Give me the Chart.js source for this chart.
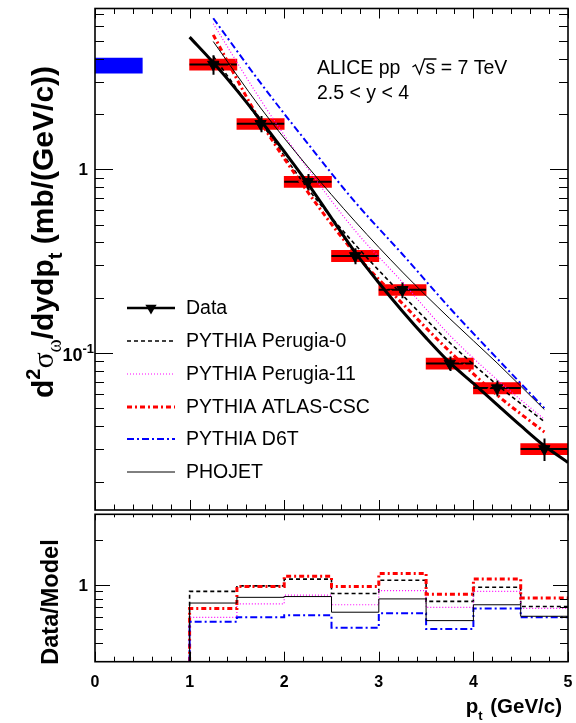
<!DOCTYPE html>
<html>
<head>
<meta charset="utf-8">
<script src="https://cdn.jsdelivr.net/npm/chart.js@4.4.1/dist/chart.umd.min.js"></script>
<style>
  body { margin: 0; background: #fff; }
  #wrap { position: relative; width: 576px; height: 723px; }
  canvas { position: absolute; left: 0; }
  #top { top: 0; }
  #bot { top: 512px; }
</style>
</head>
<body>
<div id="wrap">
  <canvas id="top" width="576" height="512"></canvas>
  <canvas id="bot" width="576" height="211"></canvas>
</div>
<script>
// === Data ===
const binLow = [1.0, 1.5, 2.0, 2.5, 3.0, 3.5, 4.0, 4.5];
const binHigh = [1.5, 2.0, 2.5, 3.0, 3.5, 4.0, 4.5, 5.0];
const binCenter = [1.25, 1.75, 2.25, 2.75, 3.25, 3.75, 4.25, 4.75];

// measured cross section, mb/(GeV/c)
const dataY = [3.72, 1.77, 0.856, 0.338, 0.221, 0.0878, 0.0645, 0.0301];
const statErr = [0.45, 0.18, 0.086, 0.034, 0.022, 0.008, 0.0065, 0.0042];
const sysErr = [0.26, 0.12, 0.06, 0.024, 0.015, 0.006, 0.0045, 0.0021];

// normalisation uncertainty (blue box at 0 < pt < 0.5)
const normX = [0.25];
const normLo = [3.34];
const normHi = [4.03];

// fit to the data (thick black curve)
const fitX = [1.0, 1.25, 1.5, 1.75, 2.0, 2.25, 2.5, 2.75, 3.0, 3.25, 3.5, 3.75, 4.0, 4.25, 4.5, 4.75, 5.0];
const fitY = [5.24, 3.81, 2.69, 1.85, 1.25, 0.836, 0.543, 0.353, 0.2415, 0.169, 0.121, 0.0887, 0.0684, 0.0525, 0.0403, 0.0313, 0.0254];

// model predictions at bin centres
const perugia0 = [4.13, 1.81, 0.785, 0.389, 0.207, 0.114, 0.0672, 0.0424];
const perugia11 = [6.2, 2.39, 1.007, 0.463, 0.243, 0.125, 0.0717, 0.0436];
const atlasCSC = [5.39, 1.82, 0.751, 0.348, 0.186, 0.102, 0.0592, 0.0372];
const d6t = [6.64, 2.95, 1.38, 0.663, 0.345, 0.176, 0.0935, 0.0502];
const phojet = [4.96, 2.16, 1.031, 0.52, 0.276, 0.154, 0.0884, 0.0493];

// Data/Model per bin
const ratioPerugia0 = [0.90, 0.98, 1.09, 0.87, 1.07, 0.77, 0.96, 0.71];
const ratioPerugia11 = [0.60, 0.74, 0.85, 0.73, 0.91, 0.70, 0.90, 0.69];
const ratioAtlas = [0.69, 0.97, 1.14, 0.97, 1.19, 0.86, 1.09, 0.81];
const ratioD6T = [0.56, 0.60, 0.62, 0.51, 0.64, 0.50, 0.69, 0.60];
const ratioPhojet = [0.75, 0.82, 0.83, 0.65, 0.80, 0.57, 0.73, 0.61];

// axis ticks
const xLabels = [0, 1, 2, 3, 4, 5];
const yMajorTop = [0.1, 1];
const yMinorTop = [0.02, 0.03, 0.04, 0.05, 0.06, 0.07, 0.08, 0.09, 0.2, 0.3, 0.4, 0.5, 0.6, 0.7, 0.8, 0.9, 2, 3, 4, 5, 6, 7];
const yMajorBot = [1];
const yMinorBot = [0.4, 0.5, 0.6, 0.7, 0.8, 0.9, 2];

// === Styles ===
const models = [
  { label: 'PYTHIA Perugia-0', top: perugia0, ratio: ratioPerugia0, color: '#000000', width: 1.6, dash: [4, 3] },
  { label: 'PYTHIA Perugia-11', top: perugia11, ratio: ratioPerugia11, color: '#ff00ff', width: 1.2, dash: [1, 2] },
  { label: 'PYTHIA ATLAS-CSC', top: atlasCSC, ratio: ratioAtlas, color: '#ff0000', width: 3, dash: [5, 3, 2, 3] },
  { label: 'PYTHIA D6T', top: d6t, ratio: ratioD6T, color: '#0000ff', width: 2, dash: [7, 3, 2, 3] },
  { label: 'PHOJET', top: phojet, ratio: ratioPhojet, color: '#000000', width: 1, dash: [] }
];

const FONT = '"Liberation Sans", Arial, Helvetica, sans-serif';
const pts = (xs, ys) => xs.map((x, i) => ({ x: x, y: ys[i] }));

// === Drawing helpers ===
function drawFrame(chart, t) {
  const { ctx, chartArea: a, scales } = chart;
  const x = scales.x, y = scales.y;
  ctx.save();
  ctx.strokeStyle = '#000';
  ctx.lineWidth = 1;
  ctx.beginPath();
  // x ticks every 0.2
  for (let i = 0; i <= 25; i++) {
    const v = i * 0.2;
    const px = Math.round(x.getPixelForValue(v)) + 0.5;
    const major = i % 5 === 0;
    const lb = major ? t.xMajB : t.xMinB;
    const lt = major ? t.xMajT : t.xMinT;
    ctx.moveTo(px, a.bottom); ctx.lineTo(px, a.bottom - lb);
    ctx.moveTo(px, a.top); ctx.lineTo(px, a.top + lt);
  }
  const yt = (v, len) => {
    const py = Math.round(y.getPixelForValue(v)) + 0.5;
    ctx.moveTo(a.left, py); ctx.lineTo(a.left + len, py);
    ctx.moveTo(a.right, py); ctx.lineTo(a.right - len, py);
  };
  t.yMajor.forEach(v => yt(v, t.yMaj));
  t.yMinor.forEach(v => yt(v, t.yMin));
  ctx.stroke();
  ctx.lineWidth = 1.6;
  ctx.strokeRect(a.left, a.top, a.right - a.left, a.bottom - a.top);
  ctx.restore();
}

// draws a run of text pieces with sizes/offsets; returns width
function richText(ctx, parts, x, y, align) {
  let w = 0;
  parts.forEach(p => { ctx.font = p.font; w += ctx.measureText(p.t).width + (p.gap || 0); });
  let cx = align === 'center' ? x - w / 2 : align === 'right' ? x - w : x;
  parts.forEach(p => {
    ctx.font = p.font;
    ctx.fillText(p.t, cx, y + (p.dy || 0));
    cx += ctx.measureText(p.t).width + (p.gap || 0);
  });
  return w;
}

function strokeLine(ctx, x1, y1, x2, y2, st) {
  ctx.save();
  ctx.strokeStyle = st.color;
  ctx.lineWidth = st.width;
  ctx.setLineDash(st.dash || []);
  ctx.beginPath(); ctx.moveTo(x1, y1); ctx.lineTo(x2, y2); ctx.stroke();
  ctx.restore();
}

function downTriangle(ctx, cx, cy, r) {
  ctx.beginPath();
  ctx.moveTo(cx - r * 0.866, cy - r * 0.5);
  ctx.lineTo(cx + r * 0.866, cy - r * 0.5);
  ctx.lineTo(cx, cy + r);
  ctx.closePath();
  ctx.fill();
}

// error bars of the data, drawn just above the systematic boxes
const errorBars = {
  id: 'errorBars',
  afterDatasetDraw(chart, args) {
    if (args.index !== 1) return;
    const { ctx, scales: { x, y } } = chart;
    ctx.save();
    ctx.strokeStyle = '#000';
    ctx.lineWidth = 2;
    ctx.beginPath();
    binCenter.forEach((c, i) => {
      const py = y.getPixelForValue(dataY[i]);
      ctx.moveTo(x.getPixelForValue(binLow[i]), py);
      ctx.lineTo(x.getPixelForValue(binHigh[i]), py);
      const px = Math.round(x.getPixelForValue(c)) + 0.5;
      ctx.moveTo(px, y.getPixelForValue(dataY[i] + statErr[i]));
      ctx.lineTo(px, y.getPixelForValue(dataY[i] - statErr[i]));
    });
    ctx.stroke();
    ctx.restore();
  }
};

const topDecor = {
  id: 'topDecor',
  afterDraw(chart) {
    const ctx = chart.ctx;
    const y = chart.scales.y;
    drawFrame(chart, { xMajB: 10, xMinB: 5.5, xMajT: 10, xMinT: 5.5, yMaj: 18, yMin: 9, yMajor: yMajorTop, yMinor: yMinorTop });

    ctx.save();
    ctx.fillStyle = '#000';
    ctx.textBaseline = 'alphabetic';
    // y tick labels
    ctx.font = 'bold 17px ' + FONT;
    ctx.textAlign = 'right';
    ctx.fillText('1', 88, y.getPixelForValue(1) + 6);
    ctx.textAlign = 'left';
    const p01 = y.getPixelForValue(0.1);
    richText(ctx, [
      { t: '10', font: 'bold 18px ' + FONT },
      { t: '-1', font: 'bold 13px ' + FONT, dy: -8 }
    ], 94, p01 + 8, 'right');

    // y title
    ctx.save();
    ctx.translate(53, 232);
    ctx.rotate(-Math.PI / 2);
    const S = 30;
    richText(ctx, [
      { t: 'd', font: 'bold ' + S + 'px ' + FONT },
      { t: '2', font: 'bold ' + Math.round(S * 0.65) + 'px ' + FONT, dy: -S * 0.42 },
      { t: 'σ', font: S + 'px "Liberation Serif", serif' },
      { t: 'ω', font: Math.round(S * 0.65) + 'px "Liberation Serif", serif', dy: S * 0.25 },
      { t: '/dydp', font: 'bold ' + S + 'px ' + FONT },
      { t: 't', font: 'bold ' + Math.round(S * 0.65) + 'px ' + FONT, dy: S * 0.3 },
      { t: ' (mb/(GeV/c))', font: 'bold ' + S + 'px ' + FONT }
    ], 0, 0, 'center');
    ctx.restore();

    // labels
    ctx.font = '19.5px ' + FONT;
    ctx.textAlign = 'left';
    const x0 = 317, b0 = 74;
    ctx.fillText('ALICE pp', x0, b0);
    let cx = x0 + ctx.measureText('ALICE pp').width + 12;
    // radical sign
    ctx.lineWidth = 1.3;
    ctx.strokeStyle = '#000';
    ctx.beginPath();
    ctx.moveTo(cx, b0 - 7);
    ctx.lineTo(cx + 3, b0 - 9);
    ctx.lineTo(cx + 7, b0);
    ctx.lineTo(cx + 12, b0 - 15);
    ctx.lineTo(cx + 24, b0 - 15);
    ctx.stroke();
    cx += 13;
    ctx.fillText('s = 7 TeV', cx, b0);
    ctx.fillText('2.5 < y < 4', x0, 99);

    // legend
    const lx1 = 127, lx2 = 175, tx = 186;
    const rows = [308, 341, 374, 407, 439, 472];
    strokeLine(ctx, lx1, rows[0], lx2, rows[0], { color: '#000', width: 2.5 });
    downTriangle(ctx, 151, rows[0], 6.5);
    ctx.font = '19.5px ' + FONT;
    ctx.textBaseline = 'middle';
    ctx.fillText('Data', tx, rows[0] + 1);
    models.forEach((m, i) => {
      const ry = rows[i + 1];
      strokeLine(ctx, lx1, ry, lx2, ry, m);
      ctx.fillText(m.label, tx, ry + 1);
    });
    ctx.restore();
  }
};

const botDecor = {
  id: 'botDecor',
  afterDraw(chart) {
    const ctx = chart.ctx;
    const { x, y } = chart.scales;
    drawFrame(chart, { xMajB: 10, xMinB: 5, xMajT: 6, xMinT: 3, yMaj: 15, yMin: 8, yMajor: yMajorBot, yMinor: yMinorBot });
    ctx.save();
    ctx.fillStyle = '#000';
    ctx.font = 'bold 16px ' + FONT;
    ctx.textAlign = 'center';
    ctx.textBaseline = 'alphabetic';
    xLabels.forEach(v => ctx.fillText(String(v), x.getPixelForValue(v), 174.7));
    ctx.textAlign = 'right';
    ctx.font = 'bold 17px ' + FONT;
    ctx.fillText('1', 88, y.getPixelForValue(1) + 6);
    ctx.textAlign = 'left';
    richText(ctx, [
      { t: 'p', font: 'bold 20.5px ' + FONT },
      { t: 't', font: 'bold 13px ' + FONT, dy: 7, gap: 2 },
      { t: ' (GeV/c)', font: 'bold 20.5px ' + FONT }
    ], 562, 201.3, 'right');
    ctx.save();
    ctx.translate(58, 90);
    ctx.rotate(-Math.PI / 2);
    ctx.font = 'bold 23.5px ' + FONT;
    ctx.textAlign = 'center';
    ctx.fillText('Data/Model', 0, 0);
    ctx.restore();
    ctx.restore();
  }
};

// === Top panel: spectrum ===
const barOpts = { type: 'bar', grouped: false, barPercentage: 1, categoryPercentage: 1, borderWidth: 0 };
const topSets = [
  Object.assign({}, barOpts, { label: 'norm', data: normX.map((c, i) => ({ x: c, y: [normLo[i], normHi[i]] })), backgroundColor: '#0000ff', order: 20 }),
  Object.assign({}, barOpts, { label: 'sys', data: binCenter.map((c, i) => ({ x: c, y: [dataY[i] - sysErr[i], dataY[i] + sysErr[i]] })), backgroundColor: '#ff0000', order: 19 })
];
models.forEach((m, i) => {
  topSets.push({
    type: 'line', label: m.label, data: pts(binCenter, m.top),
    borderColor: m.color, borderWidth: m.width, borderDash: m.dash,
    pointRadius: 0, fill: false, cubicInterpolationMode: 'monotone', order: 10 - i
  });
});
topSets.push({
  type: 'line', label: 'fit', data: pts(fitX, fitY),
  borderColor: '#000', borderWidth: 3, pointRadius: 0, fill: false,
  cubicInterpolationMode: 'monotone', order: 2
});
topSets.push({
  type: 'line', label: 'Data', data: pts(binCenter, dataY), showLine: false,
  pointStyle: 'triangle', rotation: 180, pointRadius: 6.5,
  pointBackgroundColor: '#000', pointBorderColor: '#000', pointBorderWidth: 1, order: 1
});

new Chart(document.getElementById('top'), {
  type: 'bar',
  data: { datasets: topSets },
  options: {
    responsive: false,
    animation: false,
    layout: { autoPadding: false, padding: { left: 95, right: 8, top: 8.5, bottom: 2 } },
    plugins: { legend: { display: false }, tooltip: { enabled: false } },
    scales: {
      x: { type: 'linear', min: 0, max: 5, offset: false, display: false },
      y: { type: 'logarithmic', min: 0.014, max: 7.5, display: false }
    }
  },
  plugins: [errorBars, topDecor]
});

// === Bottom panel: Data/Model ===
const botSets = models.map((m, i) => ({
  type: 'line', label: m.label,
  data: pts([binLow[0]].concat(binLow, [binHigh[binHigh.length - 1]]), [0.3].concat(m.ratio, [m.ratio[m.ratio.length - 1]])),
  borderColor: m.color, borderWidth: m.width, borderDash: m.dash,
  pointRadius: 0, fill: false, stepped: 'before', order: 10 - i
}));

new Chart(document.getElementById('bot'), {
  type: 'line',
  data: { datasets: botSets },
  options: {
    responsive: false,
    animation: false,
    layout: { autoPadding: false, padding: { left: 95, right: 8, top: 2.3, bottom: 61.3 } },
    plugins: { legend: { display: false }, tooltip: { enabled: false } },
    scales: {
      x: { type: 'linear', min: 0, max: 5, display: false },
      y: { type: 'logarithmic', min: 0.3, max: 3, display: false }
    }
  },
  plugins: [botDecor]
});
</script>
</body>
</html>
